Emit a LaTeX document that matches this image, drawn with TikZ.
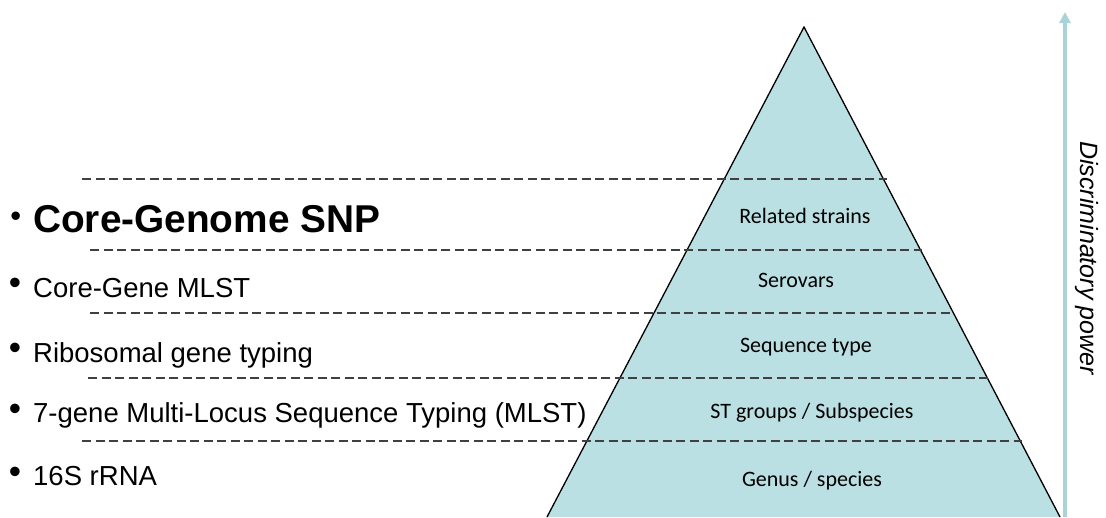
\documentclass[tikz,border=0pt]{standalone}
\usepackage{fontspec}
\setmainfont{Liberation Sans}
\newfontfamily\calibri{Carlito}
\usetikzlibrary{arrows.meta}
\definecolor{pyrfill}{HTML}{BAE0E3}
\definecolor{dashgray}{HTML}{404040}
\definecolor{arrowblue}{HTML}{A8D3D9}
\tikzset{
  sepline/.style={draw=dashgray, line width=1.3pt, dash pattern=on 9pt off 4.5pt},
  lefttext/.style={anchor=base west, inner sep=0pt, font=\fontsize{27.5}{33}\selectfont},
  bigtext/.style={anchor=base west, inner sep=0pt, font=\fontsize{38.8}{46}\selectfont\bfseries},
  bulletmark/.style={anchor=base, inner sep=0pt, font=\fontsize{35}{35}\selectfont},
  bigbullet/.style={anchor=base, inner sep=0pt, font=\fontsize{31}{31}\selectfont},
  levellabel/.style={anchor=base, inner sep=0pt, font=\calibri\fontsize{22}{26}\selectfont},
  powerlabel/.style={anchor=base, inner sep=0pt, rotate=-90, font=\fontsize{25}{30}\selectfont\itshape},
}
\begin{document}
\begin{tikzpicture}[x=1pt, y=-1pt]
\useasboundingbox (0,0) rectangle (1106,517);
% pyramid
\coordinate (apex) at (804,27);
\coordinate (bl) at (547,517);
\coordinate (br) at (1060,517);
\fill[pyrfill] (apex) -- (bl) -- (br) -- cycle;
\draw[line width=1.3pt, line join=miter] (bl) -- (apex) -- (br);
% dashed separators
\coordinate (d1a) at (82,179);  \coordinate (d1b) at (887,179);
\coordinate (d2a) at (90,250);  \coordinate (d2b) at (922,250);
\coordinate (d3a) at (90,313);  \coordinate (d3b) at (950,313);
\coordinate (d4a) at (88,378);  \coordinate (d4b) at (990,378);
\coordinate (d5a) at (82,441);  \coordinate (d5b) at (1022,441);
\draw[sepline] (d1a) -- (d1b);
\draw[sepline] (d2a) -- (d2b);
\draw[sepline] (d3a) -- (d3b);
\draw[sepline] (d4a) -- (d4b);
\draw[sepline] (d5a) -- (d5b);
% level labels
\node[levellabel] (l1) at (805,223) {Related strains};
\node[levellabel] (l2) at (796,287) {Serovars};
\node[levellabel] (l3) at (806,352) {Sequence type};
\node[levellabel] (l4) at (812,418) {ST groups / Subspecies};
\node[levellabel] (l5) at (812,486) {Genus / species};
% left list
\node[bigbullet] (b1) at (15.7,226) {•};
\node[bigtext] (t1) at (33,232) {Core-Genome SNP};
\node[bulletmark] (b2) at (15,294.4) {•};
\node[lefttext] (t2) at (33,297) {Core-Gene MLST};
\node[bulletmark] (b3) at (15,359.4) {•};
\node[lefttext] (t3) at (33,362) {Ribosomal gene typing};
\node[bulletmark] (b4) at (15,420.4) {•};
\node[lefttext] (t4) at (33,422) {7-gene Multi-Locus Sequence Typing (MLST)};
\node[bulletmark] (b5) at (15,483.4) {•};
\node[lefttext] (t5) at (33,485) {16S rRNA};
% discriminatory power arrow
\coordinate (abot) at (1065,517);
\coordinate (atop) at (1065,12);
\draw[arrowblue, line width=3.5pt, -{Triangle[width=11pt,length=11pt]}] (abot) -- (atop);
\node[powerlabel] (pw) at (1080,258) {Discriminatory power};
\end{tikzpicture}
\end{document}
